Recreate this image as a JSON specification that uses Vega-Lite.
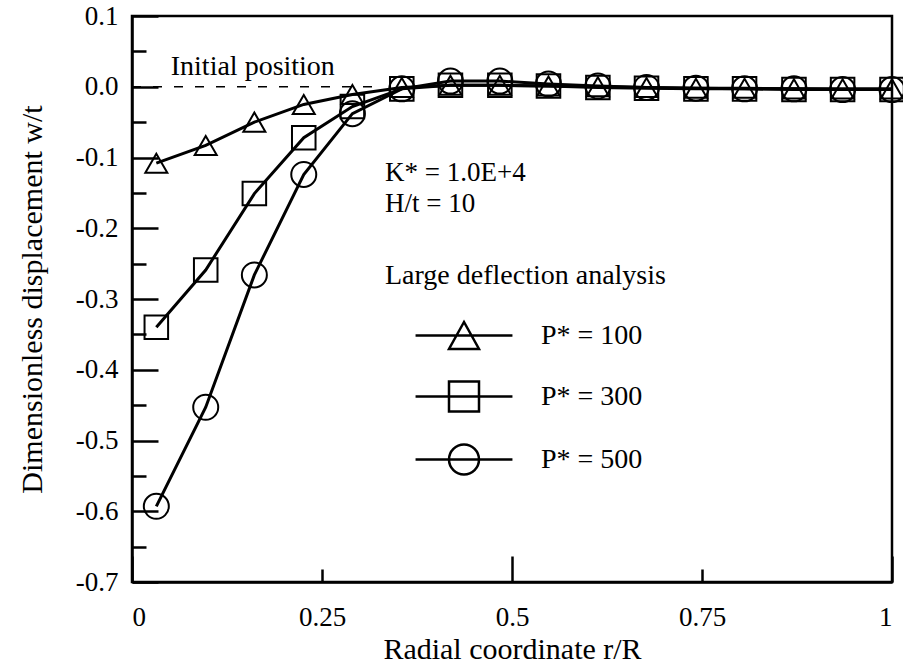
{
  "$schema": "https://vega.github.io/schema/vega-lite/v6.json",
  "width": 760,
  "height": 566,
  "autosize": "none",
  "padding": {"left": 132, "top": 16, "right": 11, "bottom": 83},
  "background": "white",
  "config": {
    "font": "Liberation Serif",
    "view": {"stroke": "black", "strokeWidth": 2.5},
    "axis": {
      "grid": false,
      "domainColor": "black",
      "domainWidth": 2.5,
      "tickColor": "black",
      "tickWidth": 2.5,
      "labelColor": "black",
      "labelFont": "Liberation Serif",
      "labelFontSize": 27,
      "titleFont": "Liberation Serif",
      "titleFontSize": 30,
      "titleFontWeight": "normal",
      "titleColor": "black"
    },
    "legend": {
      "labelFont": "Liberation Serif",
      "titleFont": "Liberation Serif"
    }
  },
  "data": {
    "values": [
      {"series": "P* = 100", "r": 0.032, "w": -0.108},
      {"series": "P* = 100", "r": 0.097, "w": -0.083},
      {"series": "P* = 100", "r": 0.161, "w": -0.050},
      {"series": "P* = 100", "r": 0.226, "w": -0.025},
      {"series": "P* = 100", "r": 0.290, "w": -0.011},
      {"series": "P* = 100", "r": 0.355, "w": -0.001},
      {"series": "P* = 100", "r": 0.419, "w": 0.002},
      {"series": "P* = 100", "r": 0.484, "w": 0.002},
      {"series": "P* = 100", "r": 0.548, "w": 0.001},
      {"series": "P* = 100", "r": 0.613, "w": 0.000},
      {"series": "P* = 100", "r": 0.677, "w": -0.001},
      {"series": "P* = 100", "r": 0.742, "w": -0.002},
      {"series": "P* = 100", "r": 0.806, "w": -0.002},
      {"series": "P* = 100", "r": 0.871, "w": -0.003},
      {"series": "P* = 100", "r": 0.935, "w": -0.003},
      {"series": "P* = 100", "r": 1.0, "w": -0.003},
      {"series": "P* = 300", "r": 0.032, "w": -0.340},
      {"series": "P* = 300", "r": 0.097, "w": -0.259},
      {"series": "P* = 300", "r": 0.161, "w": -0.151},
      {"series": "P* = 300", "r": 0.226, "w": -0.072},
      {"series": "P* = 300", "r": 0.290, "w": -0.028},
      {"series": "P* = 300", "r": 0.355, "w": -0.003},
      {"series": "P* = 300", "r": 0.419, "w": 0.002},
      {"series": "P* = 300", "r": 0.484, "w": 0.002},
      {"series": "P* = 300", "r": 0.548, "w": 0.001},
      {"series": "P* = 300", "r": 0.613, "w": -0.001},
      {"series": "P* = 300", "r": 0.677, "w": -0.002},
      {"series": "P* = 300", "r": 0.742, "w": -0.003},
      {"series": "P* = 300", "r": 0.806, "w": -0.003},
      {"series": "P* = 300", "r": 0.871, "w": -0.004},
      {"series": "P* = 300", "r": 0.935, "w": -0.004},
      {"series": "P* = 300", "r": 1.0, "w": -0.004},
      {"series": "P* = 500", "r": 0.032, "w": -0.593},
      {"series": "P* = 500", "r": 0.097, "w": -0.453},
      {"series": "P* = 500", "r": 0.161, "w": -0.266},
      {"series": "P* = 500", "r": 0.226, "w": -0.124},
      {"series": "P* = 500", "r": 0.290, "w": -0.038},
      {"series": "P* = 500", "r": 0.355, "w": -0.003},
      {"series": "P* = 500", "r": 0.419, "w": 0.008},
      {"series": "P* = 500", "r": 0.484, "w": 0.008},
      {"series": "P* = 500", "r": 0.548, "w": 0.004},
      {"series": "P* = 500", "r": 0.613, "w": 0.001},
      {"series": "P* = 500", "r": 0.677, "w": -0.001},
      {"series": "P* = 500", "r": 0.742, "w": -0.002},
      {"series": "P* = 500", "r": 0.806, "w": -0.003},
      {"series": "P* = 500", "r": 0.871, "w": -0.003},
      {"series": "P* = 500", "r": 0.935, "w": -0.004},
      {"series": "P* = 500", "r": 1.0, "w": -0.004}
    ]
  },
  "layer": [
    {
      "data": {"values": [{}]},
      "mark": {"type": "rule", "color": "black", "strokeWidth": 1.5, "strokeDash": [9, 12]},
      "encoding": {
        "x": {"datum": 0, "type": "quantitative", "scale": {"domain": [0, 1], "nice": false, "zero": false},
          "axis": {"orient": "bottom", "values": [0.25, 0.75], "tickSize": -13, "labels": false, "domain": false, "title": null}},
        "x2": {"datum": 0.33},
        "y": {"datum": 0, "type": "quantitative", "scale": {"domain": [-0.7, 0.1], "nice": false, "zero": false},
          "axis": {"orient": "left", "values": [0.05, -0.05, -0.15, -0.25, -0.35, -0.45, -0.55, -0.65], "tickSize": -14, "labels": false, "domain": false, "title": null}}
      }
    },
    {
      "mark": {"type": "line", "color": "black", "strokeWidth": 3},
      "encoding": {
        "x": {"field": "r", "type": "quantitative", "scale": {"domain": [0, 1], "nice": false, "zero": false},
          "axis": {"orient": "bottom", "values": [0, 0.25, 0.5, 0.75, 1], "labelExpr": "format(datum.value, '~g')", "ticks": false, "labelPadding": 22, "title": "Radial coordinate r/R", "titlePadding": 4}},
        "y": {"field": "w", "type": "quantitative", "scale": {"domain": [-0.7, 0.1], "nice": false, "zero": false},
          "axis": {"orient": "left", "values": [-0.7, -0.6, -0.5, -0.4, -0.3, -0.2, -0.1, 0, 0.1], "ticks": false, "labelPadding": 14,
            "labelExpr": "(datum.value < -0.0001 ? '-' : '') + format(abs(datum.value), '.1f')",
            "title": "Dimensionless displacement w/t", "titlePadding": 28}},
        "detail": {"field": "series"}
      }
    },
    {
      "mark": {"type": "point", "filled": false, "color": "black", "strokeWidth": 2, "opacity": 1},
      "encoding": {
        "x": {"field": "r", "type": "quantitative", "scale": {"domain": [0, 1], "nice": false, "zero": false},
          "axis": {"orient": "bottom", "values": [0, 0.5, 1], "tickSize": -26, "labels": false, "domain": false, "title": null}},
        "y": {"field": "w", "type": "quantitative", "scale": {"domain": [-0.7, 0.1], "nice": false, "zero": false},
          "axis": {"orient": "left", "values": [-0.7, -0.6, -0.5, -0.4, -0.3, -0.2, -0.1, 0, 0.1], "tickSize": -26, "labels": false, "domain": false, "title": null}},
        "shape": {"field": "series", "type": "nominal",
          "scale": {"domain": ["P* = 100", "P* = 300", "P* = 500"], "range": ["triangle-up", "square", "circle"]},
          "legend": null},
        "size": {"field": "series", "type": "nominal",
          "scale": {"domain": ["P* = 100", "P* = 300", "P* = 500"], "range": [484, 625, 529]},
          "legend": null}
      }
    },
    {
      "mark": {"type": "point", "filled": false, "color": "black", "strokeWidth": 2.5, "opacity": 0, "size": 900},
      "encoding": {
        "x": {"field": "r", "type": "quantitative", "scale": {"domain": [0, 1], "nice": false, "zero": false}, "axis": null},
        "y": {"field": "w", "type": "quantitative", "scale": {"domain": [-0.7, 0.1], "nice": false, "zero": false}, "axis": null},
        "shape": {"field": "series", "type": "nominal",
          "scale": {"domain": ["P* = 100", "P* = 300", "P* = 500"],
            "range": ["M-3.23,0H3.23M0,-0.9L-1,0.9L1,0.9Z", "M-3.23,0H3.23M-1,-1H1V1H-1Z", "M-3.23,0H3.23M-1,0A1,1,0,1,0,1,0A1,1,0,1,0,-1,0Z"]},
          "legend": {
            "orient": "none", "legendX": 253, "legendY": 246,
            "title": "Large deflection analysis", "titleFontSize": 28, "titleFontWeight": "normal", "titleColor": "black", "titlePadding": 29, "titleLimit": 600,
            "labelFontSize": 28, "labelColor": "black", "labelOffset": 60.5, "symbolOffset": 62.5, "rowPadding": 22,
            "symbolSize": 900, "symbolOpacity": 1,
            "symbolStrokeColor": "black", "symbolFillColor": "transparent", "symbolStrokeWidth": 2.5
          }}
      }
    },
    {
      "data": {"values": [{}]},
      "mark": {"type": "text", "align": "left", "baseline": "alphabetic", "fontSize": 28, "color": "black", "font": "Liberation Serif"},
      "encoding": {
        "x": {"datum": 0.051, "type": "quantitative", "scale": {"domain": [0, 1], "nice": false, "zero": false}, "axis": null},
        "y": {"datum": 0.0163, "type": "quantitative", "scale": {"domain": [-0.7, 0.1], "nice": false, "zero": false}, "axis": null},
        "text": {"value": "Initial position"}
      }
    },
    {
      "data": {"values": [{}]},
      "mark": {"type": "text", "align": "left", "baseline": "alphabetic", "fontSize": 27, "lineHeight": 31, "color": "black", "font": "Liberation Serif"},
      "encoding": {
        "x": {"datum": 0.333, "type": "quantitative", "scale": {"domain": [0, 1], "nice": false, "zero": false}, "axis": null},
        "y": {"datum": -0.1336, "type": "quantitative", "scale": {"domain": [-0.7, 0.1], "nice": false, "zero": false}, "axis": null},
        "text": {"value": ["K* = 1.0E+4", "H/t = 10"]}
      }
    }
  ],
  "resolve": {
    "axis": {"x": "independent", "y": "independent"},
    "scale": {"shape": "independent"},
    "legend": {"shape": "independent", "size": "independent"}
  }
}
